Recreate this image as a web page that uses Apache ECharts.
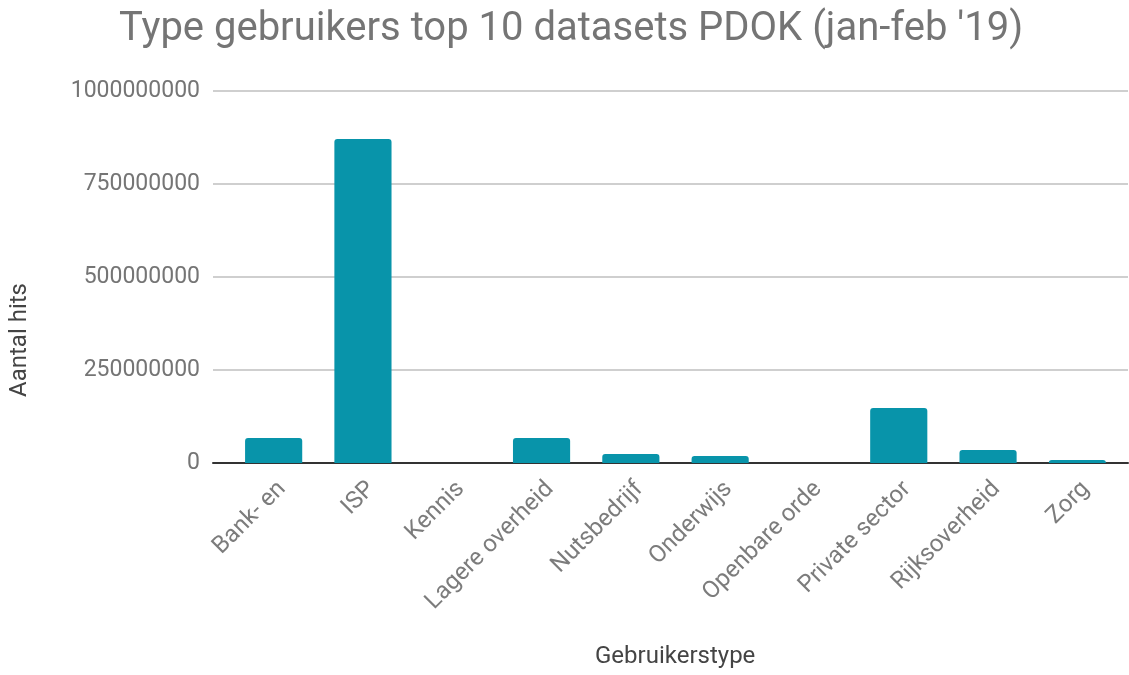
<!DOCTYPE html>
<html>
<head>
<meta charset="utf-8">
<script src="https://cdn.jsdelivr.net/npm/echarts@6/dist/echarts.min.js"></script>
<style>
  html, body { margin: 0; padding: 0; background: #fff; }
  #chart { width: 1129px; height: 675px; }
</style>
</head>
<body>
<div id="chart"></div>
<script>
// gebruikerstypen en hits (jan-feb '19)
const categories = ['Bank- en', 'ISP', 'Kennis', 'Lagere overheid', 'Nutsbedrijf',
    'Onderwijs', 'Openbare orde', 'Private sector', 'Rijksoverheid', 'Zorg'];
const hits = [67000000, 871000000, 300000, 67000000, 24000000,
    19000000, 200000, 148000000, 35000000, 8000000];
const yTicks = [0, 250000000, 500000000, 750000000, 1000000000];

const FONT = 'Roboto';
const chart = echarts.init(document.getElementById('chart'));

const option = {
    backgroundColor: '#fff',
    animation: false,
    title: {
        text: "Type gebruikers top 10 datasets PDOK (jan-feb '19)",
        left: 114,
        top: 5,
        textStyle: { fontFamily: FONT, fontSize: 40, fontWeight: 'normal', color: '#757575' }
    },
    // grid 0: assen en rasterlijnen over de volle breedte
    // grid 1: de staven, met wat marge links en rechts
    grid: [
        { left: 213, right: 1, top: 91, bottom: 212 },
        { left: 229, right: 7, top: 91, bottom: 212 }
    ],
    xAxis: [
        {
            type: 'value', gridIndex: 0, min: 0, max: 1,
            axisLine: { show: true, onZero: false, lineStyle: { color: '#333', width: 2 } },
            axisTick: { show: false }, axisLabel: { show: false }, splitLine: { show: false }
        },
        {
            type: 'category', gridIndex: 1, data: categories,
            axisLine: { show: false }, axisTick: { show: false },
            axisLabel: {
                rotate: 45, interval: 0, margin: 14, verticalAlign: 'top',
                fontFamily: FONT, fontSize: 24, color: '#7c7c7c'
            }
        }
    ],
    yAxis: [
        {
            type: 'value', gridIndex: 0, min: yTicks[0], max: yTicks[yTicks.length - 1],
            interval: yTicks[1] - yTicks[0],
            axisLine: { show: false }, axisTick: { show: false },
            axisLabel: {
                margin: 13, fontFamily: FONT, fontSize: 23, color: '#757575',
                formatter: v => String(v)
            },
            splitLine: { lineStyle: { color: '#cfcfcf', width: 2 } }
        },
        {
            type: 'value', gridIndex: 1, min: yTicks[0], max: yTicks[yTicks.length - 1],
            show: false, splitLine: { show: false }
        }
    ],
    graphic: [
        {
            type: 'text', left: 8, top: 283, rotation: Math.PI / 2,
            style: { text: 'Aantal hits', fontFamily: FONT, fontSize: 24, fill: '#444' }
        },
        {
            type: 'text', left: 595, top: 645,
            style: { text: 'Gebruikerstype', fontFamily: FONT, fontSize: 24, fill: '#444' }
        }
    ],
    series: [
        {
            type: 'bar', xAxisIndex: 1, yAxisIndex: 1,
            data: hits,
            barCategoryGap: '36%',
            itemStyle: { color: '#0894aa', borderRadius: [3, 3, 0, 0] }
        }
    ]
};

chart.setOption(option);
</script>
</body>
</html>
